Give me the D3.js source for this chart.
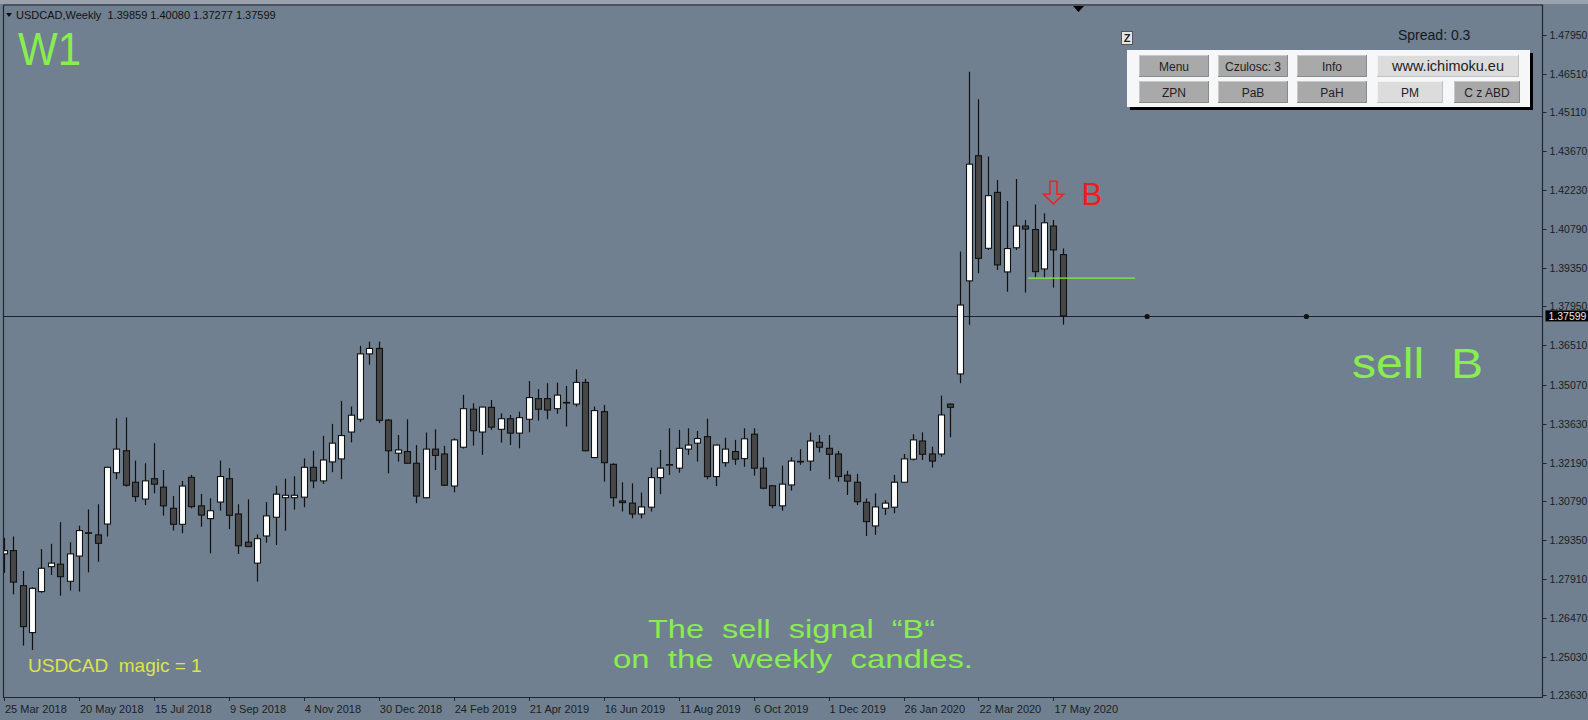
<!DOCTYPE html>
<html>
<head>
<meta charset="utf-8">
<script src="https://cdn.jsdelivr.net/npm/d3@7/dist/d3.min.js"></script>
<style>
  body { margin: 0; background: #708090; }
  svg { display: block; }
  text { font-family: "Liberation Sans", Arial, sans-serif; }
</style>
</head>
<body>
<div id="chart"></div>
<script>
// weekly USDCAD candles, 25 Mar 2018 .. 24 May 2020
const opens = [1.2883,1.2895,1.2766,1.2593,1.2744,1.2836,1.2845,1.2782,1.2875,1.2961,
  1.2953,1.2993,1.3182,1.3263,1.3147,1.3085,1.3160,1.3129,1.3051,1.2992,
  1.3165,1.3060,1.3013,1.3074,1.3160,1.3030,1.2926,1.2849,1.2949,1.3018,
  1.3090,1.3090,1.3092,1.3202,1.3152,1.3222,1.3233,1.3332,1.3379,1.3620,
  1.3640,1.3376,1.3254,1.3260,1.3217,1.3090,1.3269,1.3251,1.3133,1.3276,
  1.3416,1.3332,1.3423,1.3342,1.3381,1.3328,1.3379,1.3455,1.3455,1.3418,
  1.3441,1.3435,1.3515,1.3238,1.3407,1.3213,1.3078,1.3070,1.3030,1.3055,
  1.3164,1.3210,1.3199,1.3269,1.3291,1.3315,1.3168,1.3219,1.3260,1.3234,
  1.3324,1.3199,1.3134,1.3060,1.3137,1.3222,1.3225,1.3294,1.3272,1.3251,
  1.3173,1.3147,1.3073,1.2986,1.3051,1.3055,1.3147,1.3232,1.3299,1.3251,
  1.3251,1.3435,1.3546,1.3889,1.4350,1.4009,1.4215,1.3922,1.4011,1.4091,
  1.4078,1.3933,1.4091,1.39859];
const highs = [1.2942,1.2947,1.2820,1.2760,1.2901,1.2920,1.3000,1.2926,1.2987,1.3047,
  1.3066,1.3204,1.3383,1.3386,1.3227,1.3217,1.3291,1.3192,1.3096,1.3152,
  1.3174,1.3104,1.3088,1.3227,1.3199,1.3066,1.3084,1.2955,1.3074,1.3134,
  1.3160,1.3169,1.3235,1.3263,1.3318,1.3362,1.3447,1.3426,1.3650,1.3665,
  1.3665,1.3380,1.3321,1.3379,1.3284,1.3330,1.3342,1.3281,1.3309,1.3469,
  1.3438,1.3425,1.3450,1.3401,1.3395,1.3407,1.3520,1.3490,1.3512,1.3514,
  1.3502,1.3563,1.3528,1.3426,1.3432,1.3217,1.3147,1.3143,1.3109,1.3201,
  1.3266,1.3346,1.3340,1.3346,1.3336,1.3381,1.3286,1.3311,1.3303,1.3346,
  1.3346,1.3239,1.3137,1.3208,1.3239,1.3269,1.3330,1.3321,1.3321,1.3263,
  1.3189,1.3178,1.3087,1.3106,1.3081,1.3174,1.3251,1.3324,1.3331,1.3278,
  1.3466,1.3437,1.3997,1.4660,1.4558,1.4347,1.4261,1.4183,1.4264,1.4113,
  1.4170,1.4138,1.4113,1.40080];
const lows = [1.2813,1.2734,1.2545,1.2529,1.2740,1.2805,1.2729,1.2748,1.2744,1.2815,
  1.2854,1.2947,1.3158,1.3131,1.3075,1.3063,1.3106,1.3024,1.2969,1.2959,
  1.3051,1.2983,1.2885,1.3042,1.2974,1.2883,1.2908,1.2781,1.2924,1.2916,
  1.2968,1.3046,1.3055,1.3125,1.3141,1.3184,1.3158,1.3294,1.3369,1.3580,
  1.3365,1.3180,1.3223,1.3215,1.3070,1.3088,1.3192,1.3133,1.3110,1.3271,
  1.3282,1.3248,1.3340,1.3293,1.3284,1.3272,1.3331,1.3374,1.3379,1.3399,
  1.3352,1.3426,1.3261,1.3236,1.3149,1.3057,1.3039,1.3014,1.3014,1.3039,
  1.3103,1.3174,1.3182,1.3248,1.3223,1.3158,1.3133,1.3204,1.3211,1.3204,
  1.3171,1.3121,1.3051,1.3042,1.3116,1.3211,1.3189,1.3257,1.3158,1.3149,
  1.3100,1.3063,1.2949,1.2953,1.3026,1.3033,1.3145,1.3227,1.3229,1.3201,
  1.3241,1.3313,1.3512,1.3727,1.3917,1.4003,1.3929,1.3849,1.4003,1.3846,
  1.3902,1.3901,1.3864,1.37277];
const closes = [1.2895,1.2779,1.2615,1.2756,1.2830,1.2849,1.2799,1.2883,1.2969,1.2961,
  1.2922,1.3202,1.3269,1.3136,1.3094,1.3152,1.3140,1.3060,1.2992,1.3133,
  1.3057,1.3026,1.3042,1.3168,1.3025,1.2913,1.2910,1.2939,1.3023,1.3103,
  1.3099,1.3099,1.3202,1.3152,1.3229,1.3291,1.3319,1.3394,1.3620,1.3640,
  1.3375,1.3263,1.3266,1.3217,1.3096,1.3269,1.3246,1.3136,1.3303,1.3418,
  1.3337,1.3424,1.3350,1.3381,1.3328,1.3385,1.3459,1.3416,1.3413,1.3468,
  1.3439,1.3515,1.3263,1.3411,1.3219,1.3090,1.3072,1.3030,1.3056,1.3164,
  1.3199,1.3212,1.3272,1.3284,1.3308,1.3168,1.3284,1.3269,1.3232,1.3307,
  1.3199,1.3125,1.3061,1.3140,1.3225,1.3224,1.3299,1.3276,1.3250,1.3168,
  1.3151,1.3075,1.3002,1.3056,1.3070,1.3147,1.3233,1.3303,1.3250,1.3225,
  1.3395,1.3423,1.3800,1.4319,1.3972,1.4203,1.3948,1.4008,1.4091,1.4080,
  1.3923,1.4103,1.4003,1.37599];

// time axis labels, one every 8 bars
const dateLabels = ["25 Mar 2018","20 May 2018","15 Jul 2018","9 Sep 2018","4 Nov 2018",
  "30 Dec 2018","24 Feb 2019","21 Apr 2019","16 Jun 2019","11 Aug 2019","6 Oct 2019",
  "1 Dec 2019","26 Jan 2020","22 Mar 2020","17 May 2020"];
const priceTicks = [1.4795,1.4651,1.4511,1.4367,1.4223,1.4079,1.3935,1.3795,1.3651,
  1.3507,1.3363,1.3219,1.3079,1.2935,1.2791,1.2647,1.2503,1.2363];

const lastPrice = 1.37599;
const signalLevel = 1.3899;      // green line
const signalFrom = 109.3, signalTo = 120.7;
const dotBars = [122, 139];      // dots on the price line
const arrowBar = 112, arrowTop = 1.4256;

const buttonsRow1 = ["Menu", "Czulosc: 3", "Info", "www.ichimoku.eu"];
const buttonsRow2 = ["ZPN", "PaB", "PaH", "PM", "C z ABD"];

const width = 1588, height = 720;
const plotL = 3, plotR = 1542.5, plotT = 5, plotB = 697;
const green = "#88ee50";

const svg = d3.select("#chart").append("svg")
  .attr("width", width).attr("height", height);

svg.append("rect").attr("width", width).attr("height", height).attr("fill", "#708090");
svg.append("rect").attr("width", width).attr("height", 4).attr("fill", "#9aa3ad");

const x = d3.scaleLinear().domain([0, 140]).range([4, 4 + 140 * 9.37]);
const y = d3.scaleLinear().domain([1.2363, 1.4795]).range([695, 35]);

svg.append("clipPath").attr("id", "plot")
  .append("rect").attr("x", plotL).attr("y", plotT).attr("width", plotR - plotL).attr("height", plotB - plotT);

const plot = svg.append("g").attr("clip-path", "url(#plot)");

// price line + dots
const lineY = Math.round(y(lastPrice)) + 0.5;
plot.append("line")
  .attr("x1", plotL).attr("x2", plotR)
  .attr("y1", lineY).attr("y2", lineY)
  .attr("stroke", "#1c222a").attr("stroke-width", 1.2);
plot.selectAll(".dot").data(dotBars).enter().append("circle")
  .attr("cx", d => x(d)).attr("cy", lineY)
  .attr("r", 2.6).attr("fill", "#111");

// candles
const candles = d3.range(opens.length).map(i => ({
  i: i, o: opens[i], h: highs[i], l: lows[i], c: closes[i]
}));

const cg = plot.selectAll(".candle").data(candles).enter().append("g");
cg.append("line")
  .attr("x1", d => Math.round(x(d.i)) + 0.5).attr("x2", d => Math.round(x(d.i)) + 0.5)
  .attr("y1", d => y(d.h)).attr("y2", d => y(d.l))
  .attr("stroke", "#111").attr("stroke-width", 1.2);
cg.append("rect")
  .attr("x", d => Math.round(x(d.i)) - 2.5)
  .attr("y", d => y(Math.max(d.o, d.c)))
  .attr("width", 6)
  .attr("height", d => Math.max(0.6, Math.abs(y(d.o) - y(d.c))))
  .attr("fill", d => d.c > d.o ? "#ffffff" : "#474747")
  .attr("stroke", "#111").attr("stroke-width", 1.1);

// green signal level
plot.append("line")
  .attr("x1", x(signalFrom)).attr("x2", x(signalTo))
  .attr("y1", y(signalLevel)).attr("y2", y(signalLevel))
  .attr("stroke", "#7cf040").attr("stroke-width", 1.2);

// red arrow + B
const ax = x(arrowBar), ay = y(arrowTop);
svg.append("path")
  .attr("d", `M${ax - 3.5},${ay} h7 v13 h6.5 l-10,9.5 l-10,-9.5 h6.5 z`)
  .attr("fill", "none").attr("stroke", "#e8262a").attr("stroke-width", 1.6);
svg.append("text").attr("x", ax + 28).attr("y", ay + 24)
  .attr("font-size", 31).attr("fill", "#ee1c1c").text("B");

// frame
svg.append("path")
  .attr("d", `M${plotL + 0.5},${plotT} V${plotB + 0.5} H${plotR} V${plotT} H${plotL + 0.5}`)
  .attr("fill", "none").attr("stroke", "#20262e").attr("stroke-width", 1.2);

// price axis
const yAxis = svg.append("g");
yAxis.selectAll("line").data(priceTicks).enter().append("line")
  .attr("x1", plotR).attr("x2", plotR + 4)
  .attr("y1", d => Math.round(y(d)) + 0.5).attr("y2", d => Math.round(y(d)) + 0.5)
  .attr("stroke", "#20262e");
yAxis.selectAll("text").data(priceTicks).enter().append("text")
  .attr("x", plotR + 7).attr("y", d => y(d) + 4)
  .attr("font-size", 10.5).attr("fill", "#1a1e24")
  .text(d => d3.format(".5f")(d));
svg.append("rect").attr("x", plotR + 3).attr("y", y(lastPrice) - 5.5)
  .attr("width", 46).attr("height", 11).attr("fill", "#000");
svg.append("text").attr("x", plotR + 6).attr("y", y(lastPrice) + 4)
  .attr("font-size", 10.5).attr("fill", "#e8e8e8").text(d3.format(".5f")(lastPrice));

// time axis
const xAxis = svg.append("g");
xAxis.selectAll("line").data(dateLabels).enter().append("line")
  .attr("x1", (d, i) => Math.round(x(i * 8)) + 0.5).attr("x2", (d, i) => Math.round(x(i * 8)) + 0.5)
  .attr("y1", plotB).attr("y2", plotB + 4).attr("stroke", "#20262e");
xAxis.selectAll("text").data(dateLabels).enter().append("text")
  .attr("x", (d, i) => x(i * 8) + 1).attr("y", 713)
  .attr("font-size", 11).attr("fill", "#1a1e24").text(d => d);

// chart shift marker
svg.append("path").attr("d", "M1073,6 h11 l-5.5,6 z").attr("fill", "#000");

// header
svg.append("path").attr("d", "M6,13 h6 l-3,4 z").attr("fill", "#111");
svg.append("text").attr("x", 16).attr("y", 19).attr("font-size", 11).attr("fill", "#111")
  .style("white-space", "pre")
  .text("USDCAD,Weekly  1.39859 1.40080 1.37277 1.37599");

// big green labels
svg.append("text").attr("x", 18).attr("y", 65).attr("font-family", "Roboto")
  .attr("font-size", 46).attr("fill", green)
  .attr("textLength", 63).attr("lengthAdjust", "spacingAndGlyphs").text("W1");
svg.append("text").attr("x", 1352).attr("y", 378).attr("font-family", "Roboto")
  .attr("font-size", 42).attr("fill", green).style("white-space", "pre")
  .attr("textLength", 131).attr("lengthAdjust", "spacingAndGlyphs").text("sell  B");
svg.append("text").attr("x", 648).attr("y", 638).attr("font-family", "Roboto")
  .attr("font-size", 25).attr("fill", green).style("white-space", "pre")
  .attr("textLength", 287).attr("lengthAdjust", "spacingAndGlyphs").text("The  sell  signal  \u201CB\u201C");
svg.append("text").attr("x", 613).attr("y", 667.5).attr("font-family", "Roboto")
  .attr("font-size", 25).attr("fill", green).style("white-space", "pre")
  .attr("textLength", 360).attr("lengthAdjust", "spacingAndGlyphs").text("on  the  weekly  candles.");

svg.append("text").attr("x", 28).attr("y", 672).attr("font-size", 19).attr("fill", "#dde446")
  .style("white-space", "pre").text("USDCAD  magic = 1");

// panel top right
svg.append("text").attr("x", 1398).attr("y", 40).attr("font-size", 14).attr("fill", "#14181c")
  .text("Spread: 0.3");
svg.append("rect").attr("x", 1121.5).attr("y", 31.5).attr("width", 11).attr("height", 13)
  .attr("fill", "#e6e6e6").attr("stroke", "#555");
svg.append("text").attr("x", 1127).attr("y", 42).attr("text-anchor", "middle")
  .attr("font-size", 11).attr("font-weight", "bold").attr("fill", "#222").text("Z");

svg.append("rect").attr("x", 1130).attr("y", 53).attr("width", 403).attr("height", 57).attr("fill", "#000");
svg.append("rect").attr("x", 1127).attr("y", 50).attr("width", 403).attr("height", 57).attr("fill", "#f6f7f8");

const btnX1 = [1139, 1218, 1297, 1377], btnW1 = [70, 70, 70, 142];
const btnX2 = [1139, 1218, 1297, 1377, 1454], btnW2 = [70, 70, 70, 66, 66];

function drawButtons(labels, xs, ws, yTop, lightIdx) {
  labels.forEach((lab, i) => {
    const light = lightIdx.includes(i);
    const g = svg.append("g");
    g.append("rect").attr("x", xs[i]).attr("y", yTop).attr("width", ws[i]).attr("height", 22)
      .attr("fill", light ? "#dcdcdc" : "#a9a9a9");
    g.append("path")
      .attr("d", `M${xs[i] + 0.5},${yTop + 22} V${yTop + 0.5} H${xs[i] + ws[i]}`)
      .attr("fill", "none").attr("stroke", light ? "#f2f2f2" : "#c8c8c8");
    g.append("path")
      .attr("d", `M${xs[i] + ws[i] - 0.5},${yTop} V${yTop + 21.5} H${xs[i]}`)
      .attr("fill", "none").attr("stroke", light ? "#c0c0c0" : "#8a8a8a");
    g.append("text").attr("x", xs[i] + ws[i] / 2).attr("y", yTop + 16)
      .attr("text-anchor", "middle").attr("font-size", i == 3 && labels.length == 4 ? 14.5 : 12)
      .attr("fill", "#222").text(lab);
  });
}
drawButtons(buttonsRow1, btnX1, btnW1, 55, [3]);
drawButtons(buttonsRow2, btnX2, btnW2, 81, [3]);
</script>
</body>
</html>
